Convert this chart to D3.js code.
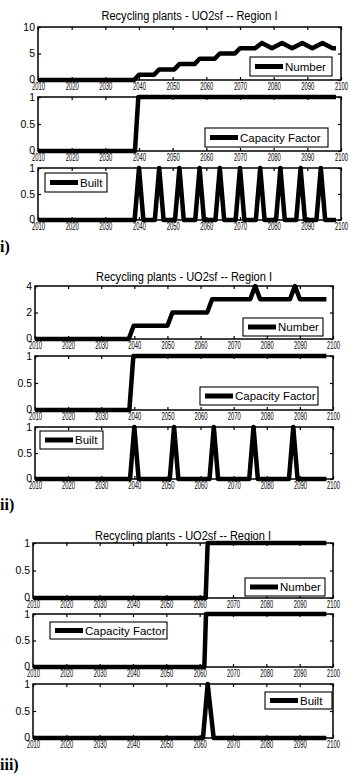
<!DOCTYPE html>
<html>
<head>
<meta charset="utf-8">
<script src="https://cdn.jsdelivr.net/npm/d3@7"></script>
<style>
  body { margin: 0; background: #fff; }
</style>
</head>
<body>
<div id="main"></div>
<script>
"use strict";

var chartTitle = "Recycling plants - UO2sf -- Region I";
var seriesNames = ["Number", "Capacity Factor", "Built"];
var groupLabels = ["i)", "ii)", "iii)"];
var xTicks = [2010, 2020, 2030, 2040, 2050, 2060, 2070, 2080, 2090, 2100];
var yTicksTen = [0, 5, 10];
var yTicksFour = [0, 2, 4];
var yTicksOne = [0, 0.5, 1];

// i) [year, value]
var numberI = [[2010, 0], [2038.5, 0], [2040, 1], [2044.5, 1], [2046, 2], [2050.5, 2], [2052, 3],
  [2056.5, 3], [2058, 4], [2062.5, 4], [2064, 5], [2068.5, 5], [2070, 6], [2074.5, 6], [2076.5, 7],
  [2079.5, 6], [2082.5, 7], [2085.5, 6], [2088.5, 7], [2091.5, 6], [2094.5, 7], [2097.5, 6], [2098.5, 6]];
var capacityI = [[2010, 0], [2038.8, 0], [2039.8, 1], [2098.5, 1]];
var builtI = [[2010, 0], [2038.7, 0], [2040, 1], [2041.3, 0], [2044.7, 0], [2046, 1], [2047.3, 0],
  [2050.7, 0], [2052, 1], [2053.3, 0], [2056.7, 0], [2058, 1], [2059.3, 0], [2062.7, 0], [2064, 1],
  [2065.3, 0], [2068.7, 0], [2070, 1], [2071.3, 0], [2074.7, 0], [2076, 1], [2077.3, 0], [2080.7, 0],
  [2082, 1], [2083.3, 0], [2086.7, 0], [2088, 1], [2089.3, 0], [2092.7, 0], [2094, 1], [2095.3, 0],
  [2098.5, 0]];

// ii)
var numberII = [[2010, 0], [2038.3, 0], [2039.8, 1], [2050, 1], [2051.5, 2], [2062, 2], [2063.5, 3],
  [2075, 3], [2076.5, 4], [2078, 3], [2087, 3], [2088.5, 4], [2090, 3], [2098, 3]];
var capacityII = [[2010, 0], [2038.5, 0], [2039.7, 1], [2098, 1]];
var builtII = [[2010, 0], [2038.7, 0], [2040, 1], [2041.3, 0], [2050.7, 0], [2052, 1], [2053.3, 0],
  [2062.7, 0], [2064, 1], [2065.3, 0], [2074.7, 0], [2076, 1], [2077.3, 0], [2086.7, 0], [2088, 1],
  [2089.3, 0], [2098, 0]];

// iii)
var numberIII = [[2010, 0], [2061.8, 0], [2062.4, 1], [2098, 1]];
var capacityIII = [[2010, 0], [2061.4, 0], [2061.9, 1], [2098, 1]];
var builtIII = [[2010, 0], [2061, 0], [2062.4, 1], [2064.2, 0], [2098, 0]];

var W = 354, H = 775;
var SANS = "'Liberation Sans', Arial, sans-serif";
var SERIF = "'Liberation Serif', 'DejaVu Serif', serif";

// layout per figure: panel box, title, legend box offsets (dx, dy, w, h) from the panel corner
var groups = [
  { label: groupLabels[0], labelY: 252, titleY: 20, left: 38, right: 341,
    tops: [27, 97, 168], bottoms: [80, 151, 220],
    yTicks: [yTicksTen, yTicksOne, yTicksOne], yMax: [10, 1, 1],
    series: [numberI, capacityI, builtI],
    legends: [[212, 30, 82, 19], [167, 31, 123, 19], [7, 5, 62, 19]] },
  { label: groupLabels[1], labelY: 510, titleY: 281, left: 35, right: 333,
    tops: [286, 356, 427], bottoms: [339, 410, 479],
    yTicks: [yTicksFour, yTicksOne, yTicksOne], yMax: [4, 1, 1],
    series: [numberII, capacityII, builtII],
    legends: [[208, 32, 80, 18], [165, 31, 118, 18], [5, 4, 63, 18]] },
  { label: groupLabels[2], labelY: 770, titleY: 540, left: 33, right: 333,
    tops: [543, 614, 684], bottoms: [598, 667, 738],
    yTicks: [yTicksOne, yTicksOne, yTicksOne], yMax: [1, 1, 1],
    series: [numberIII, capacityIII, builtIII],
    legends: [[212, 35, 80, 18], [17, 8, 117, 17], [232, 8, 67, 17]] }
];

var svg = d3.select("#main").append("svg").attr("width", W).attr("height", H);

groups.forEach(function(g) {
  var x = d3.scaleLinear().domain([2010, 2100]).range([g.left, g.right]);

  svg.append("text")
    .attr("x", (g.left + g.right) / 2)
    .attr("y", g.titleY)
    .attr("text-anchor", "middle")
    .attr("font-family", SANS)
    .attr("font-size", 12)
    .attr("textLength", 176)
    .attr("lengthAdjust", "spacingAndGlyphs")
    .text(chartTitle);

  svg.append("text")
    .attr("x", 0)
    .attr("y", g.labelY)
    .style("font-family", SERIF)
    .attr("font-weight", "bold")
    .attr("font-size", 16)
    .text(g.label);

  [0, 1, 2].forEach(function(i) {
    var top = g.tops[i], bottom = g.bottoms[i];
    var y = d3.scaleLinear().domain([0, g.yMax[i]]).range([bottom, top]);
    var panel = svg.append("g");

    var line = d3.line().x(function(d) { return x(d[0]); }).y(function(d) { return y(d[1]); });
    panel.append("path")
      .datum(g.series[i])
      .attr("d", line)
      .attr("fill", "none")
      .attr("stroke", "#000")
      .attr("stroke-width", 4.5)
      .attr("stroke-linejoin", "round");

    var bx = panel.append("g").attr("transform", "translate(0," + bottom + ")")
      .call(d3.axisBottom(x).tickValues(xTicks).tickSize(-3).tickPadding(3).tickFormat(d3.format("d")));
    panel.append("g").attr("transform", "translate(0," + top + ")")
      .call(d3.axisTop(x).tickValues(xTicks).tickSize(-3).tickFormat(""));
    var ly = panel.append("g").attr("transform", "translate(" + g.left + ",0)")
      .call(d3.axisLeft(y).tickValues(g.yTicks[i]).tickSize(-3).tickPadding(3).tickFormat(d3.format("~g")));
    panel.append("g").attr("transform", "translate(" + g.right + ",0)")
      .call(d3.axisRight(y).tickValues(g.yTicks[i]).tickSize(-3).tickFormat(""));

    panel.selectAll(".domain").remove();
    panel.selectAll(".tick line").attr("stroke", "#000").attr("stroke-width", 1.2);
    bx.attr("font-family", SANS);
    bx.selectAll("text")
      .attr("fill", "#000")
      .attr("font-size", 10.5)
      .attr("textLength", 13)
      .attr("lengthAdjust", "spacingAndGlyphs");
    ly.attr("font-family", SANS);
    ly.selectAll("text")
      .attr("fill", "#000")
      .attr("font-size", 10.5)
      .attr("dy", function(d) { return d === 0 ? "0.2em" : "0.32em"; });

    panel.append("rect")
      .attr("x", g.left).attr("y", top)
      .attr("width", g.right - g.left).attr("height", bottom - top)
      .attr("fill", "none").attr("stroke", "#000").attr("stroke-width", 1.5);

    // legend
    var lg = g.legends[i];
    var lx = g.left + lg[0], lyy = top + lg[1];
    var leg = panel.append("g");
    leg.append("rect")
      .attr("x", lx).attr("y", lyy).attr("width", lg[2]).attr("height", lg[3])
      .attr("fill", "#fff").attr("stroke", "#000").attr("stroke-width", 1.1);
    leg.append("line")
      .attr("x1", lx + 5).attr("x2", lx + 33)
      .attr("y1", lyy + lg[3] / 2).attr("y2", lyy + lg[3] / 2)
      .attr("stroke", "#000").attr("stroke-width", 5);
    leg.append("text")
      .attr("x", lx + 35).attr("y", lyy + lg[3] / 2 + 4)
      .attr("font-family", SANS)
      .attr("font-size", 11.5)
      .text(seriesNames[i]);
  });
});
</script>
</body>
</html>
